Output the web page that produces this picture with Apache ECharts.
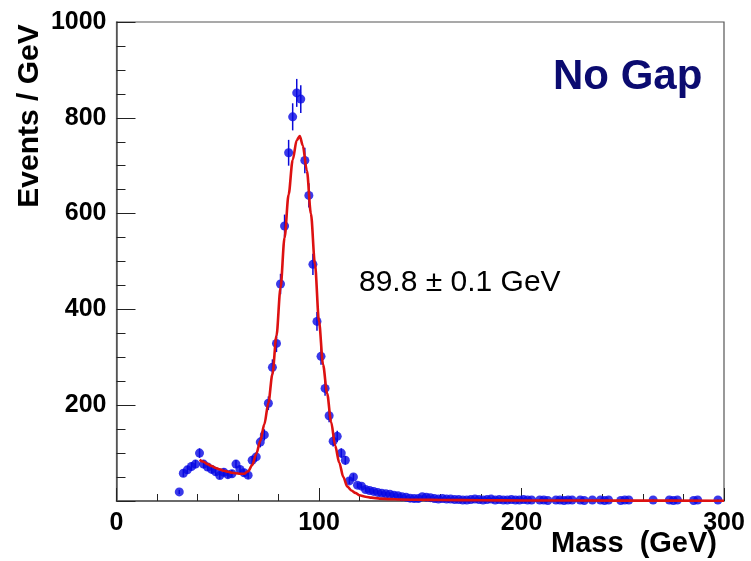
<!DOCTYPE html>
<html>
<head>
<meta charset="utf-8">
<script src="https://cdn.jsdelivr.net/npm/echarts@6/dist/echarts.min.js"></script>
<style>
  html, body { margin: 0; padding: 0; background: #ffffff; }
  #chart { width: 751px; height: 561px; }
</style>
</head>
<body>
<div id="chart"></div>
<script>
// Dimuon-style invariant mass histogram: bin centres (GeV) and events per GeV
const massBins = [
  31, 33, 35, 37, 39, 41, 43, 45, 47, 49, 51, 53, 55, 57, 59, 61, 63, 65, 67, 69,
  71, 73, 75, 77, 79, 81, 83, 85, 87, 89, 91, 93, 95, 97, 99, 101, 103, 105, 107, 109,
  111, 113, 115, 117, 119, 121, 123, 125, 127, 129, 131, 133, 135, 137, 139, 141, 143, 145, 147, 149,
  151, 153, 155, 157, 159, 161, 163, 165, 167, 169, 171, 173, 175, 177, 179, 181, 183, 185, 187, 189,
  191, 193, 195, 197, 199, 201, 203, 205, 209, 211, 213, 217, 219, 221, 223, 225, 229, 231, 235, 239,
  241, 243, 249, 251, 253, 265, 273, 275, 277, 285, 287, 297
];
const eventsPerGeV = [
  19, 58, 65, 72, 77, 100, 77, 71, 66, 61, 53, 60, 55, 57, 77, 66, 59, 54, 85, 92,
  123, 138, 204, 279, 329, 453, 574, 727, 802, 852, 839, 711, 638, 494, 375, 302, 235, 178, 125, 135,
  100, 85, 42, 50, 33, 31, 24, 22, 20, 18, 16, 15, 14, 12, 11, 9, 8, 6, 5, 5,
  9, 8, 7, 5, 4, 5, 4, 4, 3, 3, 2, 2, 3, 4, 3, 2, 3, 4, 2, 3,
  2, 2, 3, 2, 2, 3, 2, 2, 2, 2, 1, 2, 2, 1, 2, 2, 2, 1, 2, 2,
  1, 2, 1, 2, 2, 2, 2, 1, 2, 1, 2, 2
];

// Fitted line shape (signal peak plus falling background)
const fitMass = [
  41, 43, 45, 47, 49, 51, 53, 55, 57, 59, 61, 63, 65, 67, 69, 71, 73, 75, 77, 79,
  81, 83, 85, 87, 89, 90.5, 92, 94, 96, 98, 100, 102, 104, 106, 108, 110, 112, 114, 116, 118,
  120, 123, 126, 130, 135, 140, 150, 160, 180, 200, 250, 300
];
const fitValue = [
  86, 82, 77, 73, 69, 66, 63, 61, 59, 58, 57, 57, 62, 75, 98, 125, 160, 205, 265, 345,
  445, 550, 640, 712, 753, 762, 742, 690, 600, 495, 375, 285, 225, 165, 115, 80, 50, 30, 22, 17,
  12, 9, 7, 5, 4, 3, 2.5, 2, 1.5, 1.2, 0.8, 0.5
];

// Axis tick labels
const xTickLabels = ['0', '100', '200', '300'];
const yTickLabels = ['200', '400', '600', '800', '1000'];

const peakText = '89.8 \u00b1 0.1 GeV';
const panelTitle = 'No Gap';

const pointData = massBins.map((m, i) => [m, eventsPerGeV[i]]);
const fitData = fitMass.map((m, i) => [m, fitValue[i]]);
const errData = massBins.map((m, i) => [m, eventsPerGeV[i], Math.sqrt(eventsPerGeV[i])]);

const FONT = '"Liberation Sans", Arial, Helvetica, sans-serif';
const AXIS_COLOR = '#555555';

const chart = echarts.init(document.getElementById('chart'), null, { renderer: 'canvas' });

chart.setOption({
  animation: false,
  backgroundColor: '#ffffff',
  grid: { left: 116.5, right: 27, top: 22, bottom: 60, show: true, borderColor: AXIS_COLOR, borderWidth: 1.2 },
  xAxis: {
    type: 'value', min: 0, max: 300, interval: 100,
    axisLine: { show: true, lineStyle: { color: AXIS_COLOR, width: 1.5 } },
    axisTick: { show: true, inside: true, length: 13, lineStyle: { color: '#222', width: 1 } },
    minorTick: { show: true, splitNumber: 5, length: 7, lineStyle: { color: '#222', width: 1 } },
    splitLine: { show: false },
    axisLabel: {
      margin: 10, color: '#000', fontFamily: FONT, fontWeight: 'bold', fontSize: 25,
      formatter: v => xTickLabels[Math.round(v / 100)] ?? ''
    }
  },
  yAxis: {
    type: 'value', min: 0, max: 1000, interval: 200,
    axisLine: { show: true, lineStyle: { color: AXIS_COLOR, width: 1.5 } },
    axisTick: { show: true, inside: true, length: 19, lineStyle: { color: '#222', width: 1 } },
    minorTick: { show: true, splitNumber: 4, length: 9, lineStyle: { color: '#222', width: 1 } },
    splitLine: { show: false },
    axisLabel: {
      margin: 10, color: '#000', fontFamily: FONT, fontWeight: 'bold', fontSize: 25,
      formatter: v => (v === 0 ? '' : (yTickLabels[Math.round(v / 200) - 1] ?? ''))
    }
  },
  series: [
    {
      type: 'custom',
      name: 'errors',
      data: errData,
      z: 2,
      renderItem: (params, api) => {
        const x = api.value(0), y = api.value(1), e = api.value(2);
        const top = api.coord([x, y + e]);
        const bot = api.coord([x, Math.max(0, y - e)]);
        return {
          type: 'line',
          shape: { x1: top[0], y1: top[1], x2: bot[0], y2: bot[1] },
          style: { stroke: '#0a0ad8', lineWidth: 1.5 }
        };
      }
    },
    {
      type: 'scatter',
      name: 'data',
      data: pointData,
      symbol: 'circle',
      symbolSize: 9,
      z: 3,
      itemStyle: { color: '#0808e4' }
    },
    {
      type: 'line',
      name: 'fit',
      data: fitData,
      showSymbol: false,
      smooth: 0.3,
      smoothMonotone: 'x',
      z: 4,
      lineStyle: { color: '#dd1111', width: 2.6 }
    }
  ],
  graphic: [
    {
      type: 'text', left: 553, top: 56,
      style: { text: panelTitle, font: 'bold 42px ' + FONT, fill: '#0b0b70' }
    },
    {
      type: 'text', left: 359, top: 268,
      style: { text: peakText, font: '30px ' + FONT, fill: '#000' }
    },
    {
      type: 'text', x: 30, y: 116, rotation: Math.PI / 2,
      style: { text: 'Events / GeV', font: 'bold 30px ' + FONT, fill: '#000', align: 'center', verticalAlign: 'middle' }
    },
    {
      type: 'text', right: 34, top: 529,
      style: { text: 'Mass  (GeV)', font: 'bold 29px ' + FONT, fill: '#000' }
    }
  ]
});
</script>
</body>
</html>
